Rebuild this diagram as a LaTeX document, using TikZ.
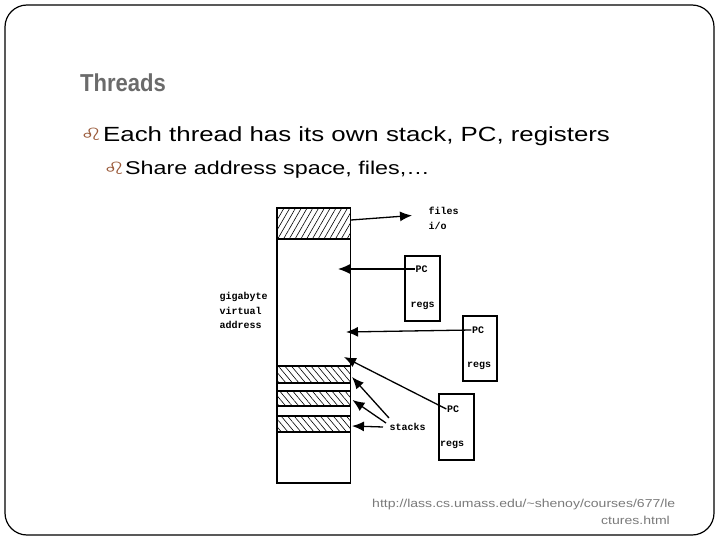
\documentclass[tikz,border=0pt]{standalone}
\usepackage{graphicx}
\usepackage{fontspec}
\setmainfont{Liberation Sans}
\newfontfamily\monob{Liberation Mono}
\newfontfamily\dejavu{DejaVu Sans}
\usetikzlibrary{arrows.meta,patterns.meta}
\definecolor{titlegray}{HTML}{6B6B6B}
\definecolor{bulletbrown}{HTML}{9A5A3A}
\definecolor{urlgray}{HTML}{7A7A7A}
\begin{document}
\begin{tikzpicture}[x=1pt,y=-1pt,
  lbl/.style={font=\monob\bfseries\fontsize{10}{11}\selectfont, inner sep=0.5pt},
  regbox/.style={draw, line width=1.6pt, inner sep=0pt},
  memcol/.style={draw, line width=1.8pt, inner sep=0pt, minimum width=73.5pt},
  hatchup/.style={memcol, pattern={Lines[angle=60,distance=5pt,line width=0.6pt]}},
  hatchdown/.style={memcol, pattern={Lines[angle=-50,distance=5pt,line width=0.6pt]}},
  ptr/.style={line width=1.3pt, -{Latex[length=12pt,width=10pt]}},
  bul/.style={inner sep=0pt, text=bulletbrown, font=\dejavu\fontsize{17}{19}\selectfont}]
\useasboundingbox (0,0) rectangle (720,540);
\draw[line width=1.2pt, rounded corners=22pt] (5,5) rectangle (714,535);

% texts
\node[anchor=base west, inner sep=0pt, text=titlegray, font=\bfseries\fontsize{24.5}{28}\selectfont] (title) at (80,92) {\scalebox{0.9}[1]{Threads}};
\node[bul] (b1) at (91.5,134.5) {\scalebox{1.5}[1]{♌}};
\node[anchor=base west, inner sep=0pt, font=\fontsize{20.5}{24}\selectfont] (l1) at (103,141.7) {\scalebox{1.26}[1]{Each thread has its own stack, PC, registers}};
\node[bul] (b2) at (114.5,168.5) {\scalebox{1.5}[1]{♌}};
\node[anchor=base west, inner sep=0pt, font=\fontsize{18.5}{22}\selectfont] (l2) at (125,175) {\scalebox{1.26}[1]{Share address space, files,…}};
\node[anchor=base west, inner sep=0pt, text=urlgray, font=\fontsize{11.5}{13}\selectfont] (u1) at (372,507) {\scalebox{1.22}[1]{http://lass.cs.umass.edu/\textasciitilde shenoy/courses/677/le}};
\node[anchor=base east, inner sep=0pt, text=urlgray, font=\fontsize{11.5}{13}\selectfont] (u2) at (670,524) {\scalebox{1.22}[1]{ctures.html}};

% memory column
\node[hatchup, minimum height=31pt] (shared) at (313.75,223.5) {};
\node[hatchdown, minimum height=17.6pt] (s1) at (313.75,374.5) {};
\node[hatchdown, minimum height=15pt] (s2) at (313.75,398.5) {};
\node[hatchdown, minimum height=16pt] (s3) at (313.75,424) {};
\node[memcol, minimum height=275pt] (col) at (313.75,345.5) {};

% thread boxes
\node[regbox, minimum width=35pt, minimum height=65pt] (box1) at (422.5,288.5) {};
\node[regbox, minimum width=34pt, minimum height=65pt] (box2) at (480,348.5) {};
\node[regbox, minimum width=35pt, minimum height=66pt] (box3) at (456.5,427) {};
\node[lbl] (pc1) at (421.5,269) {PC};
\node[lbl] (rg1) at (422.5,306) {regs};
\node[lbl] (pc2) at (478,330) {PC};
\node[lbl] (rg2) at (479,366) {regs};
\node[lbl] (pc3) at (453,409) {PC};
\node[lbl] (rg3) at (452,445) {regs};

% labels
\node[lbl, anchor=west] (files) at (428,211) {files};
\node[lbl, anchor=west] (io) at (428,226) {i/o};
\node[lbl, anchor=west] (giga) at (219,297) {gigabyte};
\node[lbl, anchor=west] (virt) at (219,311) {virtual};
\node[lbl, anchor=west] (addr) at (219,325) {address};
\node[lbl, anchor=west] (stk) at (389,427) {stacks};

% arrows
\coordinate (fs) at (351,220);
\coordinate (ft) at (412,215.5);
\draw[ptr] (fs) -- (ft);
\coordinate (t1) at (338,269);
\draw[ptr] (pc1.west) -- (t1);
\coordinate (t2) at (346,332);
\draw[ptr] (pc2.west) -- (t2);
\coordinate (t3) at (344,357);
\draw[ptr] (pc3.west) -- (t3);
\coordinate (a1) at (389,418);
\coordinate (a2) at (386,423);
\coordinate (a3) at (383,427);
\coordinate (st1) at (352,377);
\coordinate (st2) at (352.5,400);
\coordinate (st3) at (352,426);
\draw[ptr] (a1) -- (st1);
\draw[ptr] (a2) -- (st2);
\draw[ptr] (a3) -- (st3);
\end{tikzpicture}
\end{document}
